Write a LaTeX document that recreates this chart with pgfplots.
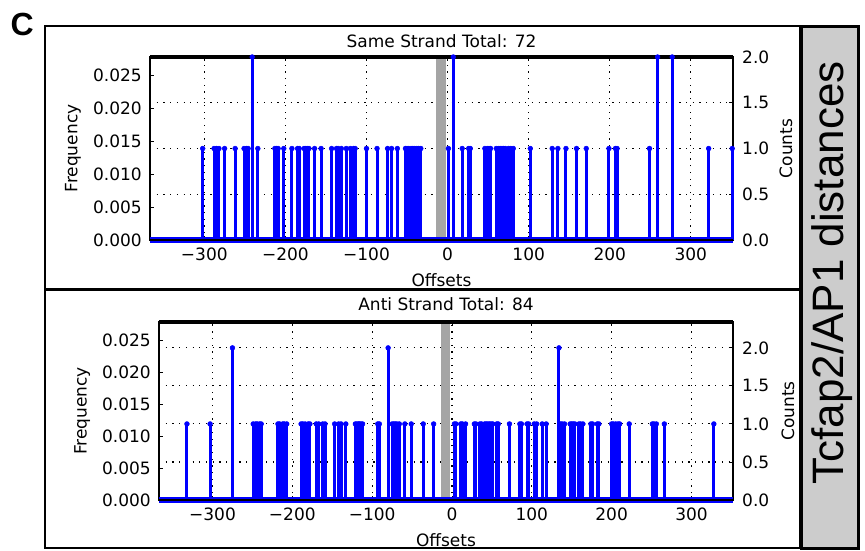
\documentclass[border=0pt]{standalone}
\usepackage{fontspec}
\setmainfont{DejaVu Sans}
\newfontfamily\lib{Liberation Sans}
\usepackage{pgfplots}
\usepackage{pgfplotstable}
\pgfplotsset{compat=1.18}
\definecolor{bandgray}{RGB}{165,165,165}
\definecolor{boxgray}{RGB}{204,204,204}
\newcommand\tf{\fontsize{17}{20}\selectfont}

% Same strand: offset, count
\pgfplotstableread{
x y
-302 1
-288 1
-285 1
-282 1
-275 1
-262 1
-251 1
-248 1
-246 1
-241 2
-234 1
-213 1
-211 1
-209 1
-202 1
-192 1
-185 1
-183 1
-177 1
-175 1
-173 1
-171 1
-164 1
-156 1
-143 1
-137 1
-135 1
-131 1
-125 1
-120 1
-116 1
-114 1
-100 1
-87 1
-74 1
-69 1
-62 1
-52 1
-50 1
-48 1
-45 1
-43 1
-41 1
-38 1
-36 1
-33 1
1 1
7 2
18 1
26 1
28 1
46 1
49 1
51 1
53 1
60 1
63 1
65 1
67 1
69 1
71 1
75 1
78 1
81 1
102 1
129 1
136 1
146 1
159 1
171 1
199 1
207 1
209 1
249 1
259 2
277 2
322 1
351 1
}\samedata

% Anti strand: offset, count
\pgfplotstableread{
x y
-332 1
-303 1
-275 2
-249 1
-246 1
-244 1
-241 1
-239 1
-218 1
-216 1
-212 1
-210 1
-207 1
-189 1
-187 1
-184 1
-180 1
-178 1
-170 1
-167 1
-162 1
-159 1
-147 1
-142 1
-139 1
-133 1
-121 1
-119 1
-117 1
-116 1
-114 1
-112 1
-93 1
-91 1
-80 2
-75 1
-73 1
-71 1
-69 1
-66 1
-59 1
-51 1
-36 1
-23 1
3 1
5 1
11 1
13 1
17 1
28 1
30 1
35 1
37 1
41 1
43 1
45 1
47 1
49 1
51 1
56 1
58 1
72 1
85 1
87 1
94 1
96 1
103 1
106 1
113 1
118 1
134 2
136 1
138 1
141 1
148 1
150 1
152 1
154 1
159 1
161 1
164 1
174 1
176 1
182 1
184 1
200 1
202 1
205 1
208 1
210 1
222 1
251 1
253 1
256 1
266 1
328 1
}\antidata

\pgfplotsset{
  panel/.style={
    scale only axis, xmin=-367, xmax=352, ymin=0,
    tick align=inside, major tick length=4pt,
    tick style={black, line width=0.9pt},
    axis line style={line width=1.3pt},
    ticklabel style={font=\tf},
    scaled y ticks=false, scaled x ticks=false,
  },
  freqaxis/.style={
    panel, hide x axis,
    ytick pos=left,
    yticklabel style={anchor=east, inner sep=0pt, xshift=-8pt},
  },
  countaxis/.style={
    panel, clip=false,
    xtick={-300,-200,...,300},
    xticklabels={−300,−200,−100,0,100,200,300},
    ytick pos=right, yticklabel pos=right,
    yticklabel style={anchor=west, inner sep=0pt, xshift=9pt},
    xticklabel style={anchor=north, inner sep=0pt, yshift=-8pt},
    grid=major,
    grid style={black, line width=1.1pt, dash pattern=on 1.2pt off 5.5pt},
    xlabel={Offsets}, ylabel={Counts},
  },
  stems/.style={ycomb, color=blue, line width=3pt, mark=*, mark size=2.4pt, mark options={fill=blue, line width=0.5pt}},
}

\begin{document}
\begin{tikzpicture}
\useasboundingbox (0pt,0pt) rectangle (865pt,-550pt);

% ---------- top panel ----------
\begin{axis}[freqaxis, at={(150pt,-240pt)}, anchor=south west, width=583pt, height=183pt,
  ymax=0.0277778,
  ytick={0,0.005,0.01,0.015,0.02,0.025},
  yticklabels={0.000,0.005,0.010,0.015,0.020,0.025},
  ylabel={Frequency},
  every axis y label/.style={at={(axis description cs:-0.132,0.5)}, rotate=90, anchor=center, font=\tf}]
\end{axis}
\begin{axis}[countaxis, at={(150pt,-240pt)}, anchor=south west, width=583pt, height=183pt,
  ymax=2,
  ytick={0,0.5,1,1.5,2}, yticklabels={0.0,0.5,1.0,1.5,2.0},
  title={Same Strand Total: 72},
  every axis title/.style={at={(axis description cs:0.5,1.087)}, anchor=center, font=\tf},
  every axis x label/.style={at={(axis description cs:0.5,-0.2186)}, anchor=center, font=\tf},
  every axis y label/.style={at={(axis description cs:1.0909,0.5)}, rotate=90, anchor=center, font=\tf}]
\addplot[fill=bandgray, draw=none] coordinates {(-14,2) (-2,2)} \closedcycle;
\addplot[stems] table {\samedata};
\addplot[blue, line width=6pt] coordinates {(-367,0) (352,0)};
\draw[line width=4.5pt] (rel axis cs:0,1) -- (rel axis cs:1,1);
\draw[line width=1.5pt] (rel axis cs:0,0) -- (rel axis cs:1,0);
\end{axis}

% ---------- bottom panel ----------
\begin{axis}[freqaxis, at={(159pt,-500pt)}, anchor=south west, width=574pt, height=178pt,
  ymax=0.027857,
  ytick={0,0.005,0.01,0.015,0.02,0.025},
  yticklabels={0.000,0.005,0.010,0.015,0.020,0.025},
  ylabel={Frequency},
  every axis y label/.style={at={(axis description cs:-0.134,0.5)}, rotate=90, anchor=center, font=\tf}]
\end{axis}
\begin{axis}[countaxis, at={(159pt,-500pt)}, anchor=south west, width=574pt, height=178pt,
  ymax=2.34,
  ytick={0,0.5,1,1.5,2}, yticklabels={0.0,0.5,1.0,1.5,2.0},
  title={Anti Strand Total: 84},
  every axis title/.style={at={(axis description cs:0.5,1.1)}, anchor=center, font=\tf},
  every axis x label/.style={at={(axis description cs:0.5,-0.228)}, anchor=center, font=\tf},
  every axis y label/.style={at={(axis description cs:1.0958,0.5)}, rotate=90, anchor=center, font=\tf}]
\addplot[fill=bandgray, draw=none] coordinates {(-14,2.34) (-2,2.34)} \closedcycle;
\addplot[stems] table {\antidata};
\addplot[blue, line width=6pt] coordinates {(-367,0) (352,0)};
\draw[line width=4.5pt] (rel axis cs:0,1) -- (rel axis cs:1,1);
\draw[line width=1.5pt] (rel axis cs:0,0) -- (rel axis cs:1,0);
\end{axis}

% ---------- frames ----------
\draw[line width=2.5pt] (45pt,-26pt) rectangle (800pt,-289pt);
\draw[line width=2.5pt] (45pt,-290pt) rectangle (800pt,-548pt);
\draw[line width=3pt, fill=boxgray] (801pt,-26pt) rectangle (858pt,-548pt);
\node[rotate=90, font=\lib\fontsize{44}{50}\selectfont] at (832pt,-273pt) {Tcfap2/AP1 distances};
\node[font=\lib\bfseries\fontsize{32}{32}\selectfont, anchor=base west] at (7pt,-35pt) {C};
\end{tikzpicture}
\end{document}
